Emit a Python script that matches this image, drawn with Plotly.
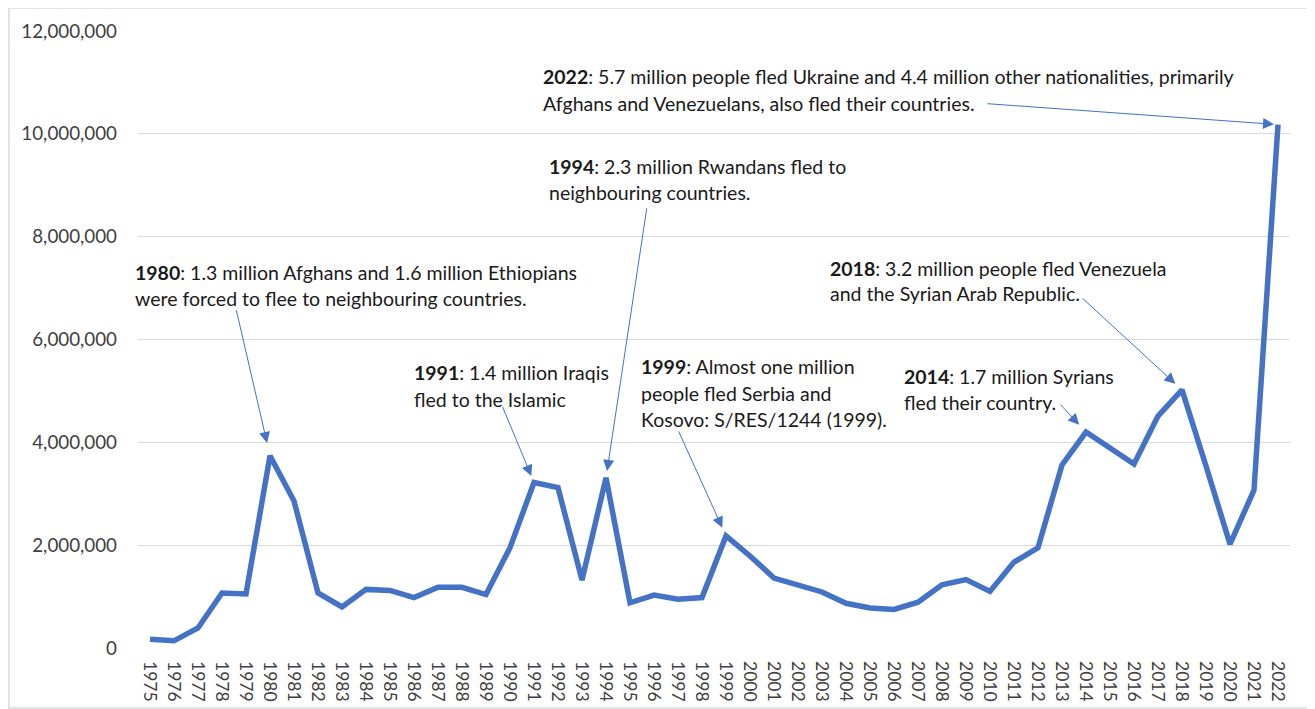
import plotly.graph_objects as go

years = list(range(1975, 2023))
refugees = [
    170000, 140000, 390000, 1070000, 1050000, 3740000, 2860000, 1070000, 800000, 1140000,
    1120000, 980000, 1180000, 1180000, 1040000, 1950000, 3220000, 3120000, 1320000, 3310000,
    880000, 1030000, 950000, 980000, 2180000, 1790000, 1360000, 1230000, 1090000, 870000,
    780000, 750000, 890000, 1230000, 1330000, 1100000, 1670000, 1950000, 3560000, 4200000,
    3900000, 3580000, 4510000, 5020000, 3540000, 2020000, 3070000, 10180000,
]
y_ticks = [0, 2000000, 4000000, 6000000, 8000000, 10000000, 12000000]

# annotation texts (bold year, then rest), one entry per visual line
notes = {
    1980: ["<b>1980</b>: 1.3 million Afghans and 1.6 million Ethiopians",
           "were forced to flee to neighbouring countries."],
    1991: ["<b>1991</b>: 1.4 million Iraqis", "fled to the Islamic"],
    1994: ["<b>1994</b>: 2.3 million Rwandans fled to", "neighbouring countries."],
    1999: ["<b>1999</b>: Almost one million", "people fled Serbia and",
           "Kosovo: S/RES/1244 (1999)."],
    2014: ["<b>2014</b>: 1.7 million Syrians", "fled their country."],
    2018: ["<b>2018</b>: 3.2 million people fled Venezuela",
           "and the Syrian Arab Republic."],
    2022: ["<b>2022</b>: 5.7 million people fled Ukraine and 4.4 million other nationalities, primarily",
           "Afghans and Venezuelans, also fled their countries."],
}

BLUE = "#4472C4"
FONT = "Lato"
OFF = 8  # page body margin
W, H = 1315 - OFF, 709 - OFF
L, R, T, B = 138 - OFF, 25, 31 - OFF, 61
PW, PH = W - L - R, H - T - B

def px2paper(px, py):
    # px, py are page pixel coordinates
    return (px - OFF - L) / PW, 1 - (py - OFF - T) / PH

fig = go.Figure()
fig.add_trace(go.Scatter(
    x=years, y=refugees, mode="lines",
    line=dict(color=BLUE, width=5.5),
    hoverinfo="x+y", showlegend=False,
))

# text positions (left x, first-line center y) in page pixels
text_pos = {
    1980: (133, 272), 1991: (412, 373), 1994: (547, 166), 1999: (639, 367),
    2014: (902, 376), 2018: (828, 268), 2022: (541, 77),
}
for yr, lines in notes.items():
    x0, y0 = text_pos[yr]
    for i, ln in enumerate(lines):
        xp, yp = px2paper(x0, y0 + 26 * i)
        fig.add_annotation(
            x=xp, y=yp, xref="paper", yref="paper", text=ln, showarrow=False,
            xanchor="left", yanchor="middle",
            font=dict(family=FONT, size=19.5, color="#1a1a1a"),
        )

# arrows: tail offsets (pixels) relative to data point, standoff
arrows = {
    1980: (-34, -147, 13), 1991: (-32, -77, 7), 1994: (41, -271, 7),
    1999: (-48, -106, 9), 2014: (-27, -29, 10), 2018: (-101, -93, 9),
    2022: (-292, -21, 4),
}
for yr, (ax, ay, so) in arrows.items():
    fig.add_annotation(
        x=yr, y=refugees[years.index(yr)], xref="x", yref="y",
        ax=ax, ay=ay, text="", showarrow=True,
        arrowhead=2, arrowsize=2.2, arrowwidth=1, arrowcolor=BLUE, standoff=so,
    )

# chart border
x0, y0 = px2paper(9, 8)
x1, y1 = px2paper(1313, 708)
fig.add_shape(type="rect", xref="paper", yref="paper", x0=x0, y0=y1, x1=x1, y1=y0,
              line=dict(color="#d9d9d9", width=1.5), fillcolor="rgba(0,0,0,0)", layer="below")

fig.update_layout(
    width=W, height=H,
    margin=dict(l=L, r=R, t=T, b=B),
    paper_bgcolor="white", plot_bgcolor="white",
    font=dict(family=FONT, color="#404040"),
    xaxis=dict(
        range=[1974.5, 2022.5], tickmode="array", tickvals=years,
        ticktext=[str(y) for y in years], tickangle=90,
        tickfont=dict(family=FONT, size=17.5, color="#404040"),
        showgrid=False, zeroline=False, showline=False, ticks="",
        ticklabelstandoff=12, automargin=False,
    ),
    yaxis=dict(
        range=[0, 12000000], tickvals=y_ticks, tickformat=",",
        tickfont=dict(family=FONT, size=18.8, color="#404040"),
        showgrid=True, gridcolor="#d9d9d9", gridwidth=1.2,
        zeroline=False, showline=False, ticks="", ticklabelstandoff=20,
        automargin=False,
    ),
)

fig.write_html("out.html")
